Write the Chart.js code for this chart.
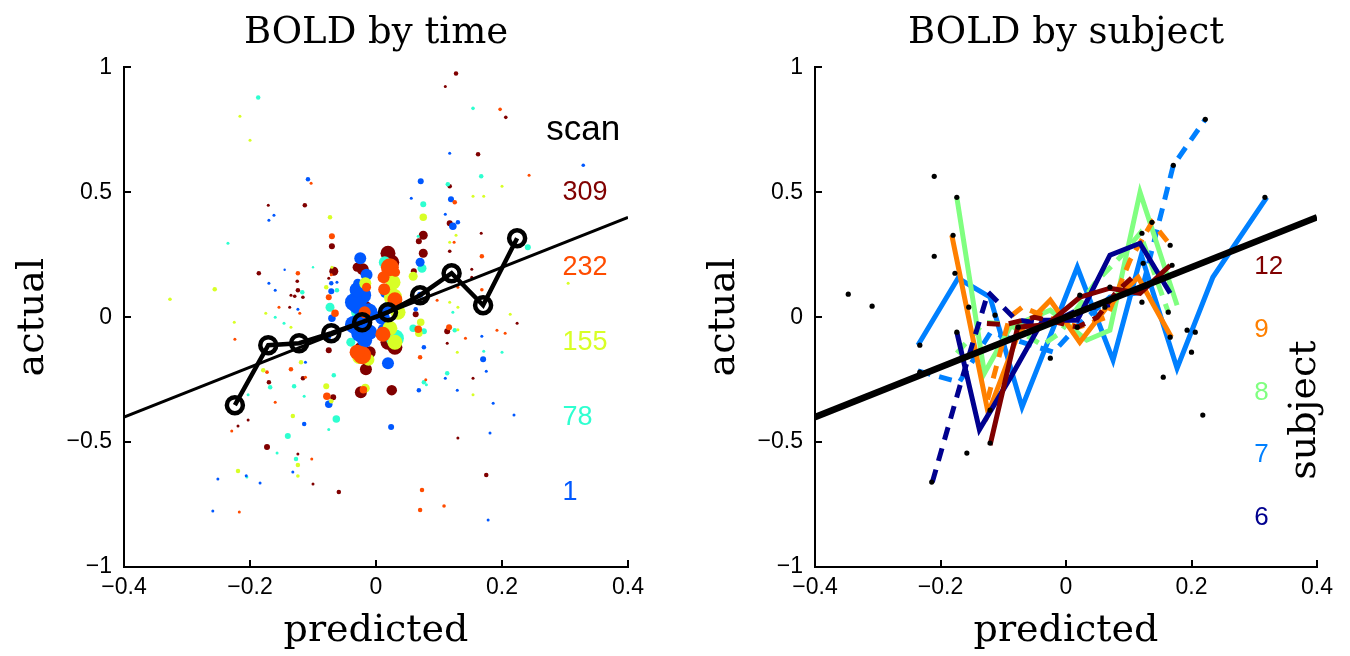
<!DOCTYPE html>
<html><head><meta charset="utf-8">
<script src="https://cdn.jsdelivr.net/npm/chart.js@4.4.1/dist/chart.umd.min.js"></script>
<style>
html,body{margin:0;padding:0;background:#fff;width:1350px;height:656px;overflow:hidden}
canvas{position:absolute;top:0}
#c1{left:0}
#c2{left:691px}
</style></head>
<body>
<canvas id="c1" width="675" height="656"></canvas>
<canvas id="c2" width="659" height="656"></canvas>
<script>
// ---------- DATA ----------
const xTicksStep = 0.2, yTicksStep = 0.5;
// left panel: binned means (black line with circles)
const binX = [-0.224,-0.171,-0.122,-0.071,-0.022,0.019,0.07,0.12,0.17,0.224];
const binY = [-0.352,-0.112,-0.104,-0.064,-0.02,0.02,0.088,0.176,0.048,0.316];
const fitSlope = 1, fitIntercept = 0;

// left panel scatter: [predicted, actual, marker size] grouped by scan colour
const scanLabels = ['309','232','155','78','1'];
const scanLabelY = [0.5,0.2,-0.1,-0.4,-0.7];
const scan1 = [[-0.108,0.552,1.5],[0.071,0.544,2],[0.117,0.656,1],[0.329,0.608,1.2],[0.056,0.476,1],[0.119,0.472,2],[-0.162,0.408,1],[-0.17,0.388,1],[0.11,0.412,1],[0.122,0.364,2.5],[0.13,0.38,1.5],[-0.025,0.236,4],[0.07,0.22,3],[-0.17,0.136,1],[-0.16,0.108,1],[-0.071,0.136,1.5],[-0.062,0.14,1],[-0.071,0.104,2],[-0.029,0.136,3],[-0.022,0.088,6],[-0.029,0.048,6],[-0.022,-0.012,6],[-0.025,-0.064,6],[-0.018,-0.092,5],[0.014,0.096,3],[0.02,0.04,4],[-0.124,0.032,1],[-0.07,-0.004,2.5],[-0.075,-0.08,1.5],[0.019,-0.184,4],[0.063,0.032,1.5],[0.076,-0.12,1.5],[0.068,-0.292,1.5],[0.11,-0.244,1],[0.129,-0.292,1],[0.168,-0.076,1],[0.17,-0.168,2],[0.175,-0.216,1],[0.186,-0.344,1],[0.219,-0.392,1],[0.181,-0.464,1],[0.178,-0.812,1],[0.024,-0.44,2],[-0.075,-0.348,2.5],[-0.114,-0.428,1.5],[-0.112,-0.18,1],[-0.132,-0.62,1],[-0.251,-0.648,1],[-0.184,-0.664,1],[-0.259,-0.776,1],[-0.206,-0.635,1],[0.07,0.09,2],[-0.145,0.19,0.8],[-0.035,0.06,6],[-0.012,0.02,6],[-0.035,-0.03,6],[-0.01,-0.06,5],[-0.03,0.11,5],[-0.015,0.17,4],[0.01,0.0,5],[0.012,-0.05,4]];
const scan78 = [[-0.187,0.88,1.5],[0.154,0.836,1.2],[0.167,0.564,1.5],[0.114,0.532,1.5],[0.075,0.452,2],[-0.235,0.296,1],[0.067,0.324,1],[0.014,0.22,4],[0.073,0.196,3],[0.241,0.28,2],[-0.117,0.1,1.5],[-0.062,0.108,1.5],[0.122,0.02,1],[-0.16,0,1],[-0.073,0.04,3],[-0.146,-0.024,1],[0.059,-0.044,2.5],[0.076,-0.056,2],[0.076,-0.26,1.5],[0.125,-0.052,1.5],[0.113,-0.224,1.5],[0.171,-0.136,1],[0.2,-0.14,1],[-0.063,-0.408,2.5],[-0.067,-0.232,1.5],[-0.14,-0.476,2],[-0.13,-0.276,1.5],[-0.168,-0.28,1.5],[-0.203,-0.31,1],[-0.157,-0.544,1],[-0.127,-0.568,1.5],[-0.205,-0.64,1],[-0.075,-0.45,1],[0.03,-0.084,6],[-0.033,0.08,4],[0.08,-0.27,1],[-0.1,0.2,0.8],[-0.114,-0.316,1],[-0.03,0.02,4],[0.035,0.04,4],[-0.04,-0.1,3]];
const scan155 = [[-0.216,0.804,1],[-0.2,0.708,1],[0.154,0.484,1],[0.171,0.484,1],[0.2,0.524,1],[0.127,0.328,1],[-0.073,0.4,1.5],[0.075,0.4,2.5],[0.059,0.164,3],[0.305,0.136,1],[-0.256,0.112,1.5],[-0.327,0.072,1.2],[-0.079,0.12,1.5],[-0.017,0.136,4],[0.027,0.14,5],[0.027,0.08,6],[0.117,0.06,1],[0.13,0.04,1],[0.213,0.012,1],[-0.175,0.016,1],[-0.135,-0.04,1],[-0.027,-0.16,4.5],[-0.017,-0.284,3],[0.022,-0.044,5],[0.071,-0.02,2.5],[0.068,-0.064,2.5],[0.129,-0.14,1],[0.154,-0.31,1],[-0.079,-0.276,2],[-0.071,-0.336,1.5],[-0.132,-0.396,1.5],[-0.119,-0.18,1.5],[-0.179,-0.212,1.5],[-0.124,-0.592,1.5],[-0.124,-0.636,1.2],[-0.219,-0.616,1.5],[-0.225,-0.02,1],[-0.07,0.2,1],[0.117,0.3,1],[0.13,-0.05,1],[0.035,0.02,5],[0.03,-0.1,5],[-0.012,-0.17,4]];
const scan232 = [[0.197,0.832,1.2],[0.243,0.568,1],[-0.103,0.536,1],[0.125,0.46,1.5],[0.124,0.3,1],[-0.07,0.324,2],[0.022,0.2,6],[0.168,0.244,1.5],[-0.124,0.176,1.5],[-0.075,0.08,2],[0.097,0.068,1],[0.168,0.11,1.2],[-0.154,0.04,1],[-0.121,0.016,1],[-0.224,-0.088,1],[-0.065,0.016,2.5],[-0.022,-0.152,6],[-0.02,-0.29,2.5],[0.011,-0.068,5],[0.067,-0.048,2.5],[0.07,-0.16,1.5],[0.079,-0.25,1],[0.116,-0.04,2],[0.142,-0.084,1],[0.192,-0.052,1],[0.205,-0.064,1],[0.073,-0.692,1.5],[0.07,-0.772,1.5],[0.108,-0.756,1.2],[-0.078,-0.316,2.5],[-0.135,-0.208,1.5],[-0.112,-0.24,1],[-0.173,-0.22,1.2],[-0.102,-0.568,1],[-0.229,-0.456,1],[-0.217,-0.78,1],[0.013,0.112,4],[-0.018,0.02,4],[0.031,0.18,3],[-0.16,-0.34,1],[-0.071,0.17,1],[0.13,0.12,1],[0.03,0.07,5],[-0.03,-0.14,5],[0.012,0.16,4],[-0.015,0.12,3]];
const scan309 = [[0.127,0.976,1.5],[0.11,0.924,1],[0.206,0.8,1.2],[0.162,0.652,1.5],[0.117,0.524,1.5],[-0.171,0.448,1],[-0.113,0.448,1.5],[0.117,0.376,2],[-0.07,0.284,2],[0.075,0.328,3],[0.068,0.304,2],[0.167,0.336,1],[-0.021,0.192,4],[0.019,0.256,5],[0.075,0.256,3],[0.06,0.184,2],[-0.067,0.184,3],[-0.075,0.156,1],[0.152,0.192,1],[-0.186,0.176,1.5],[-0.125,0.144,1.2],[-0.124,0.108,1.5],[-0.129,0.084,1.2],[-0.116,0.08,1.2],[-0.135,0.088,1],[-0.016,0.04,4],[-0.137,0.04,1],[0.063,0.012,2],[-0.075,-0.132,2],[-0.025,-0.124,4],[-0.016,-0.208,4],[-0.024,-0.3,4],[0.025,-0.292,3.5],[0.019,-0.1,5],[0.113,-0.056,2],[0.113,-0.104,1],[0.154,-0.244,1],[0.224,-0.024,1],[0.13,-0.484,1],[0.175,-0.632,1.5],[-0.059,-0.7,1.5],[-0.068,-0.32,2],[-0.116,-0.244,1.5],[-0.17,-0.26,1.5],[-0.173,-0.52,2],[-0.124,-0.548,1],[-0.1,-0.668,1],[-0.203,-0.412,1],[-0.219,-0.436,1],[0.117,0.264,1.2],[0.152,0.16,1],[0.025,0.22,5],[-0.01,-0.14,4],[0.03,-0.12,5],[-0.03,0.2,3]];

// right panel: per-subject binned curves [predicted, actual]
const subjectLabels = ['12','9','8','7','6'];
const subjectLabelY = [0.2,-0.052,-0.304,-0.552,-0.804];
const sub12Solid = [[-0.121,-0.512],[-0.077,-0.04],[-0.03,-0.03],[0.022,0.08],[0.07,0.116],[0.118,0.096],[0.166,0.208]];
const sub12Dash  = [[-0.126,-0.025],[-0.097,-0.03],[-0.05,0.0],[0.018,-0.04],[0.05,0.0],[0.08,0.1],[0.115,0.18]];
const sub9Solid  = [[-0.182,0.328],[-0.124,-0.384],[-0.075,-0.06],[-0.025,0.068],[0.022,-0.1],[0.065,0.04],[0.115,0.16],[0.168,-0.08]];
const sub9Dash   = [[-0.125,-0.33],[-0.09,0.0],[-0.07,0.04],[-0.03,0.0],[0.02,-0.04],[0.065,0.0],[0.102,0.228],[0.137,0.38],[0.166,0.29]];
const sub8Solid  = [[-0.174,0.48],[-0.13,-0.224],[-0.089,-0.04],[-0.025,0.028],[0.033,-0.092],[0.07,-0.052],[0.118,0.5],[0.177,0.048]];
const sub8Dash   = [[-0.174,-0.144],[-0.13,-0.02],[-0.09,-0.03],[-0.038,-0.112],[-0.01,-0.064],[0.046,0.136],[0.086,0.24],[0.118,0.336],[0.163,0.02]];
const sub7Solid  = [[-0.236,-0.112],[-0.172,0.156],[-0.121,0.08],[-0.07,-0.36],[0.018,0.2],[0.075,-0.172],[0.12,0.248],[0.177,-0.204],[0.234,0.16],[0.32,0.48]];
const sub7Dash   = [[-0.236,-0.215],[-0.17,-0.26],[-0.12,-0.06],[-0.07,-0.1],[-0.02,-0.14],[0.02,-0.03],[0.07,0.08],[0.12,0.1],[0.171,0.608],[0.222,0.792]];
const sub6Solid  = [[-0.174,-0.06],[-0.138,-0.45],[-0.089,-0.244],[-0.037,-0.012],[0.018,-0.012],[0.07,0.248],[0.118,0.296],[0.166,0.096]];
const sub6Dash   = [[-0.213,-0.66],[-0.165,-0.24],[-0.124,0.1],[-0.08,-0.01],[-0.03,-0.03],[0.02,0.03],[0.07,0.05]];
const subjectDots = [[-0.347,0.092],[-0.309,0.044],[-0.21,0.564],[-0.21,0.244],[-0.177,0.176],[-0.155,0.04],[-0.113,0.008],[0.022,0.088],[0.062,0.04],[0.07,0.12],[0.121,0.06],[0.123,0.216],[0.169,0.208],[0.171,0.608],[0.163,0.02],[0.222,0.792],[0.317,0.48],[0.137,0.38],[0.121,0.336],[0.166,0.288],[-0.174,0.48],[-0.18,0.328],[-0.174,-0.06],[-0.158,-0.544],[-0.121,-0.504],[-0.121,-0.372],[-0.214,-0.66],[-0.233,-0.112],[-0.233,-0.22],[-0.076,-0.04],[-0.025,-0.164],[0.018,-0.04],[0.155,-0.24],[0.193,-0.052],[0.206,-0.06],[0.2,-0.14],[0.218,-0.392],[0.166,-0.08]];

// ---------- STYLE ----------
const scanColors = {'1':'#0058ff','78':'#2effd0','155':'#d8ff26','232':'#ff4c00','309':'#800000'};
const subjColors = {'12':'#800000','9':'#ff8000','8':'#80ff80','7':'#0080ff','6':'#00008f'};
const sansFont = '"Liberation Sans", Arial, sans-serif';
const serifFont = '"DejaVu Serif", serif';
const markerScale = 1.5;

const pts = a => a.map(d => ({x:d[0], y:d[1]}));
const fmt = v => { const r = Math.round(v*10)/10; return r === 0 ? '0' : (r < 0 ? '\u2212' : '') + Math.abs(r); };
const fitLine = (xmin, xmax) => [xmin, xmax].map(x => ({x, y: fitSlope*x + fitIntercept}));

const inwardTicks = {
  id: 'inwardTicks',
  afterDraw(chart) {
    const {ctx, chartArea: a, scales: {x, y}} = chart;
    ctx.save(); ctx.strokeStyle = '#000'; ctx.lineWidth = 2;
    x.ticks.forEach(t => { const p = Math.round(x.getPixelForValue(t.value));
      ctx.beginPath(); ctx.moveTo(p, a.bottom); ctx.lineTo(p, a.bottom - 7); ctx.stroke(); });
    y.ticks.forEach(t => { const p = Math.round(y.getPixelForValue(t.value));
      ctx.beginPath(); ctx.moveTo(a.left, p); ctx.lineTo(a.left + 7, p); ctx.stroke(); });
    ctx.restore();
  }
};
const textLabels = {
  id: 'textLabels',
  afterDatasetsDraw(chart, args, opts) {
    const {ctx, scales: {x, y}} = chart;
    (opts.items || []).forEach(it => {
      ctx.save();
      ctx.font = it.font; ctx.fillStyle = it.color;
      ctx.textAlign = it.align || 'left'; ctx.textBaseline = 'middle';
      ctx.translate(x.getPixelForValue(it.x), y.getPixelForValue(it.y));
      if (it.rotate) ctx.rotate(it.rotate);
      ctx.fillText(it.text, 0, 0);
      ctx.restore();
    });
  }
};

function scales() {
  return {
    x: {type:'linear', min:-0.4, max:0.4,
        afterFit(s){ s.height = 89; },
        grid:{display:false, drawTicks:false},
        border:{display:true, color:'#000', width:2},
        ticks:{stepSize:xTicksStep, padding:7, color:'#000', font:{family:sansFont, size:23}, callback:fmt, maxRotation:0, autoSkip:false},
        title:{display:true, text:'predicted', color:'#000', font:{family:serifFont, size:38}, padding:{top:0, bottom:2}}},
    y: {type:'linear', min:-1, max:1,
        afterFit(s){ s.width = 124; },
        grid:{display:false, drawTicks:false},
        border:{display:true, color:'#000', width:2},
        ticks:{stepSize:yTicksStep, padding:12, color:'#000', font:{family:sansFont, size:23}, callback:fmt, autoSkip:false},
        title:{display:true, text:'actual', color:'#000', font:{family:serifFont, size:38}, padding:{top:10, bottom:0}}}
  };
}
function titleOpts(text) {
  return {display:true, text, color:'#000', fullSize:false,
          font:{family:serifFont, size:37, weight:'normal'}, padding:{top:11, bottom:12}};
}

// ---------- LEFT CHART ----------
// drawing order (top first): 232, 155, 1, 78, 309
const scanSets = [['232',scan232],['155',scan155],['1',scan1],['78',scan78],['309',scan309]]
  .map(([k, arr], i) => ({
    data: pts(arr), pointRadius: arr.map(d => d[2]*markerScale), pointHoverRadius: arr.map(d => d[2]*markerScale),
    pointBackgroundColor: scanColors[k], pointBorderWidth: 0, showLine:false, order: 2 + i
  }));
new Chart(document.getElementById('c1'), {
  type: 'scatter',
  data: { datasets: [
    {data: binX.map((x,i) => ({x, y: binY[i]})), showLine:true, borderColor:'#000', borderWidth:4.5,
     pointRadius:8, pointBorderWidth:4.5, pointBorderColor:'#000', pointBackgroundColor:'rgba(0,0,0,0)',
     borderJoinStyle:'miter', order:0},
    {data: fitLine(-0.4, 0.4), showLine:true, borderColor:'#000', borderWidth:3, pointRadius:0, order:1},
    ...scanSets
  ]},
  options: {
    responsive:false, animation:false, events:[],
    layout:{padding:{left:0, right:47, top:0, bottom:0}},
    scales: scales(),
    plugins: {
      legend:{display:false}, tooltip:{enabled:false},
      title: titleOpts('BOLD by time'),
      textLabels: {items: [
        {text:'scan', x:0.329, y:0.748, color:'#000', font:'35px '+sansFont, align:'center'},
        ...scanLabels.map((t,i) => ({text:t, x:0.296, y:scanLabelY[i], color:scanColors[t], font:'27px '+sansFont}))
      ]}
    }
  },
  plugins:[inwardTicks, textLabels]
});

// ---------- RIGHT CHART ----------
const subjLines = [
  ['7',sub7Solid,false],['7',sub7Dash,true],
  ['8',sub8Solid,false],['8',sub8Dash,true],
  ['9',sub9Solid,false],['9',sub9Dash,true],
  ['6',sub6Solid,false],['6',sub6Dash,true],
  ['12',sub12Solid,false],['12',sub12Dash,true]
].map(([k, arr, dash], i) => ({
  data: pts(arr), showLine:true, borderColor: subjColors[k], borderWidth:5,
  borderDash: dash ? [13,9] : [], borderCapStyle:'butt', borderJoinStyle:'miter',
  pointRadius:0, order: 12 - i
}));
new Chart(document.getElementById('c2'), {
  type: 'scatter',
  data: { datasets: [
    {data: pts(subjectDots), showLine:false, pointRadius:2.6, pointBackgroundColor:'#000', pointBorderWidth:0, order:0},
    {data: fitLine(-0.4, 0.4), showLine:true, borderColor:'#000', borderWidth:6.5, pointRadius:0, order:1},
    ...subjLines
  ]},
  options: {
    responsive:false, animation:false, events:[],
    layout:{padding:{left:0, right:33, top:0, bottom:0}},
    scales: scales(),
    plugins: {
      legend:{display:false}, tooltip:{enabled:false},
      title: titleOpts('BOLD by subject'),
      textLabels: {items: [
        ...subjectLabels.map((t,i) => ({text:t, x:0.3, y:subjectLabelY[i], color:subjColors[t], font:'26px '+sansFont})),
        {text:'subject', x:0.381, y:-0.372, color:'#000', font:'38px '+serifFont, align:'center', rotate:-Math.PI/2}
      ]}
    }
  },
  plugins:[inwardTicks, textLabels]
});
</script>
</body></html>
